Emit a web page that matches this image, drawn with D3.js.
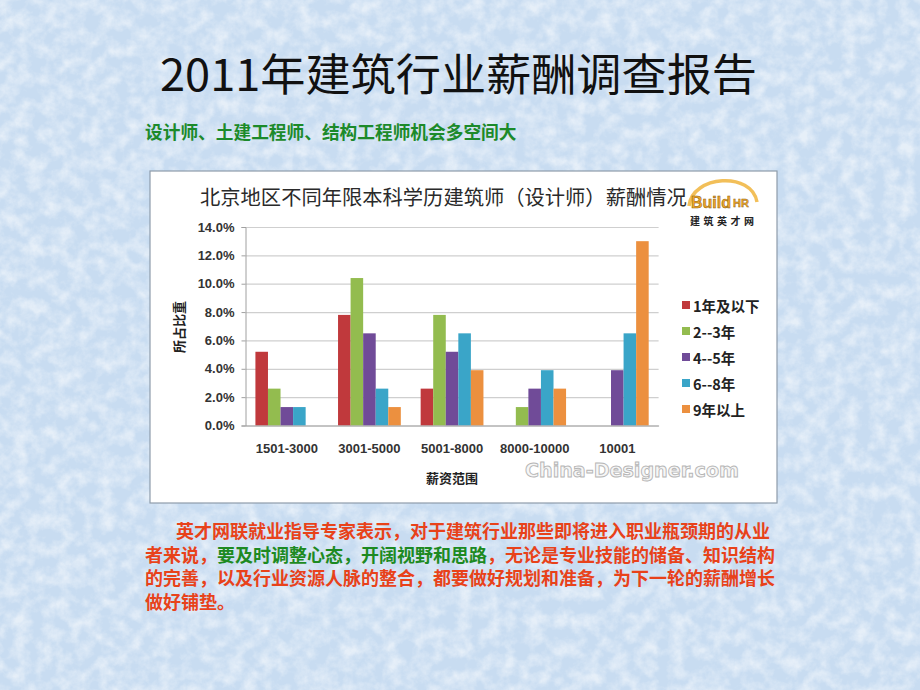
<!DOCTYPE html>
<html><head><meta charset="utf-8">
<script src="https://cdn.jsdelivr.net/npm/d3@7"></script>
<style>
html,body{margin:0;padding:0;background:#cfe0f2;}
svg{display:block;}
</style></head>
<body>
<svg id="c" width="920" height="690"></svg>
<script>
// ---- data ----
const categories = ["1501-3000", "3001-5000", "5001-8000", "8000-10000", "10001"];
const seriesNames = ["1年及以下", "2--3年", "4--5年", "6--8年", "9年以上"];
const s1 = [5.2, 7.8, 2.6, 0, 0];      // 1年及以下
const s2 = [2.6, 10.4, 7.8, 1.3, 0];   // 2--3年
const s3 = [1.3, 6.5, 5.2, 2.6, 3.9];  // 4--5年
const s4 = [1.3, 2.6, 6.5, 3.9, 6.5];  // 6--8年
const s5 = [0, 1.3, 3.9, 2.6, 13.0];   // 9年以上
const yTicks = [0, 2, 4, 6, 8, 10, 12, 14];
const colors = ["#c0393c", "#93bc4f", "#704b98", "#3aa5c8", "#ec903f"];

const pageTitle = "2011年建筑行业薪酬调查报告";
const subTitle = "设计师、土建工程师、结构工程师机会多空间大";
const chartTitle = "北京地区不同年限本科学历建筑师（设计师）薪酬情况";
const yTitle = "所占比重";
const xTitle = "薪资范围";
const paragraph = [
  [{t: "英才网联就业指导专家表示，对于建筑行业那些即将进入职业瓶颈期的从业", g: false}],
  [{t: "者来说，", g: false}, {t: "要及时调整心态，开阔视野和思路", g: true}, {t: "，无论是专业技能的储备、知识结构", g: false}],
  [{t: "的完善，以及行业资源人脉的整合，都要做好规划和准备，为下一轮的薪酬增长", g: false}],
  [{t: "做好铺垫。", g: false}]
];

const series = [s1, s2, s3, s4, s5];
const svg = d3.select("#c");
const CJK = "'Noto Sans CJK SC', 'Noto Sans', sans-serif";
const LAT = "'Liberation Sans', Arial, sans-serif";

// ---- background texture ----
const defs = svg.append("defs");
const f = defs.append("filter").attr("id", "marble").attr("x", 0).attr("y", 0).attr("width", 1).attr("height", 1);
f.append("feTurbulence").attr("type", "fractalNoise").attr("baseFrequency", "0.07").attr("numOctaves", 4).attr("seed", 11).attr("result", "n");
f.append("feColorMatrix").attr("in", "n").attr("type", "matrix")
  .attr("values", "0 0 0 0 1  0 0 0 0 1  0 0 0 0 1  2.0 0 0 0 -0.7");
svg.append("rect").attr("width", 920).attr("height", 690).attr("fill", "#c8dcf1");
svg.append("rect").attr("width", 920).attr("height", 690).attr("filter", "url(#marble)").attr("opacity", 0.55);

// ---- page title ----
svg.append("text").attr("x", 160).attr("y", 72).attr("dominant-baseline", "central")
  .attr("font-family", CJK).attr("font-size", 44).attr("textLength", 597).attr("lengthAdjust", "spacingAndGlyphs")
  .attr("fill", "#111").text(pageTitle);
svg.append("text").attr("x", 145).attr("y", 131).attr("dominant-baseline", "central")
  .attr("font-family", CJK).attr("font-weight", "bold").attr("font-size", 17.7).attr("fill", "#1c8a2a").text(subTitle);

// ---- chart box ----
svg.append("rect").attr("x", 150).attr("y", 171).attr("width", 627).attr("height", 332)
  .attr("fill", "#fff").attr("stroke", "#8e9cab").attr("stroke-width", 1.2);

const plotL = 245.5, plotR = 658.6, plotT = 227, plotB = 425.5;
const x0 = d3.scaleBand().domain(categories).range([plotL, plotR]).paddingInner(0.24).paddingOuter(0.12);
const x1 = d3.scaleBand().domain(seriesNames).range([0, x0.bandwidth()]);
const y = d3.scaleLinear().domain([0, 14]).range([plotB, plotT]);

// gridlines
const grid = svg.append("g").attr("transform", `translate(${plotL},0)`)
  .call(d3.axisLeft(y).tickValues(yTicks).tickSize(-(plotR - plotL)).tickFormat(""));
grid.select(".domain").remove();
grid.selectAll("line").attr("stroke", "#cfcfcf").attr("stroke-width", 1.2);

// bars
const gBars = svg.append("g");
categories.forEach((c, ci) => {
  series.forEach((s, si) => {
    gBars.append("rect")
      .attr("x", x0(c) + x1(seriesNames[si]))
      .attr("y", y(s[ci]))
      .attr("width", x1.bandwidth())
      .attr("height", y(0) - y(s[ci]))
      .attr("fill", colors[si]);
  });
});

// y axis
const ya = svg.append("g").attr("transform", `translate(${plotL},0)`)
  .call(d3.axisLeft(y).tickValues(yTicks).tickSize(4).tickPadding(7).tickFormat(d => d.toFixed(1) + "%"));
ya.select(".domain").attr("stroke", "#a0a0a0");
ya.selectAll("line").attr("stroke", "#a0a0a0");
ya.selectAll("text").attr("font-family", LAT).attr("font-weight", "bold").attr("font-size", 13).attr("fill", "#333");

// x axis
const xa = svg.append("g").attr("transform", `translate(0,${plotB})`)
  .call(d3.axisBottom(x0).tickSize(0).tickSizeOuter(0));
xa.select(".domain").attr("stroke", "#a0a0a0");
xa.selectAll("text").attr("y", 22.5).attr("dy", "0.35em")
  .attr("font-family", LAT).attr("font-weight", "bold").attr("font-size", 13).attr("fill", "#333");

// chart title
svg.append("text").attr("x", 200).attr("y", 196).attr("dominant-baseline", "central")
  .attr("font-family", CJK).attr("font-size", 20.3).attr("fill", "#2a2a2a").text(chartTitle);

// axis titles
svg.append("text").attr("transform", "translate(178,327) rotate(-90)").attr("text-anchor", "middle")
  .attr("dominant-baseline", "central").attr("font-family", CJK).attr("font-weight", "bold")
  .attr("font-size", 13).attr("fill", "#222").text(yTitle);
svg.append("text").attr("x", 452).attr("y", 477).attr("text-anchor", "middle")
  .attr("dominant-baseline", "central").attr("font-family", CJK).attr("font-weight", "bold")
  .attr("font-size", 13).attr("fill", "#222").text(xTitle);

// legend
const legY = d3.scalePoint().domain(seriesNames).range([305, 409]);
const leg = svg.append("g");
seriesNames.forEach((n, i) => {
  leg.append("rect").attr("x", 682).attr("y", legY(n) - 4).attr("width", 8).attr("height", 8).attr("fill", colors[i]);
  leg.append("text").attr("x", 693).attr("y", legY(n)).attr("dominant-baseline", "central")
    .attr("font-family", CJK).attr("font-weight", "bold").attr("font-size", 14.5).attr("fill", "#222").text(n);
});

// logo
const logo = svg.append("g");
logo.append("path").attr("d", "M689,206 C692,175 752,171 757,202")
  .attr("fill", "none").attr("stroke", "#f0b43c").attr("stroke-width", 3.5).attr("opacity", 0.85);
logo.append("text").attr("x", 691).attr("y", 208).attr("font-family", LAT).attr("font-weight", "bold")
  .attr("font-size", 16).attr("fill", "#f0a828").attr("stroke", "#8a5a10").attr("stroke-width", 0.5).text("Build");
logo.append("text").attr("x", 733).attr("y", 207).attr("font-family", LAT).attr("font-weight", "bold")
  .attr("font-size", 11).attr("fill", "#f0a828").attr("stroke", "#8a5a10").attr("stroke-width", 0.4).text("HR");
logo.append("text").attr("x", 690).attr("y", 220.5).attr("dominant-baseline", "central")
  .attr("font-family", CJK).attr("font-weight", "bold").attr("font-size", 10).attr("letter-spacing", 3.5)
  .attr("fill", "#222").text("建筑英才网");

// watermark
svg.append("text").attr("x", 525).attr("y", 470).attr("dominant-baseline", "central")
  .attr("font-family", "'DejaVu Sans', sans-serif").attr("font-weight", "bold").attr("font-size", 19)
  .attr("textLength", 214).attr("lengthAdjust", "spacingAndGlyphs")
  .attr("fill", "#f6f6f6").attr("stroke", "#b5b5b5").attr("stroke-width", 0.9).text("China-Designer.com");

// paragraph
const lineY = [530, 553.5, 577, 600.5];
paragraph.forEach((line, li) => {
  const t = svg.append("text").attr("x", li === 0 ? 176 : 145).attr("y", lineY[li])
    .attr("dominant-baseline", "central").attr("font-family", CJK).attr("font-weight", "bold").attr("font-size", 18);
  line.forEach(seg => t.append("tspan").attr("fill", seg.g ? "#1d8a22" : "#e8421a").text(seg.t));
});
</script>
</body></html>
